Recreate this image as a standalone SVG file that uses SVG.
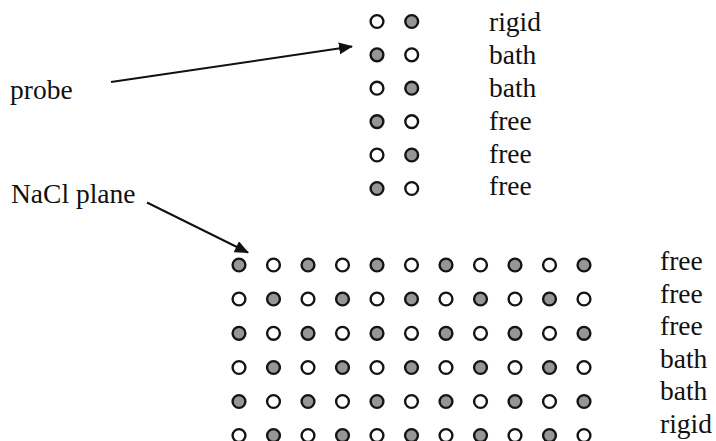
<svg xmlns="http://www.w3.org/2000/svg" width="716" height="441" viewBox="0 0 716 441">
  <style>
    .na { fill: #969696; stroke: #141414; stroke-width: 2.4; }
    .cl { fill: #ffffff; stroke: #141414; stroke-width: 2.4; }
    .lbl { font-family: 'Liberation Serif', Tinos, 'DejaVu Serif', serif; font-size: 27.5px; fill: #111; }
    .arrow { stroke: #111; stroke-width: 2; fill: none; }
  </style>
  <defs>
    <marker id="head" markerUnits="userSpaceOnUse" markerWidth="14" markerHeight="12" refX="13" refY="6" orient="auto">
      <path d="M0,0 L14,6 L0,12 z" fill="#111"/>
    </marker>
    <circle id="a" r="6.4" class="na"/>
    <circle id="b" r="6.4" class="cl"/>
  </defs>
  <rect width="716" height="441" fill="#ffffff"/>

  <!-- probe: two-column stack with per-layer labels -->
  <g id="probe">
    <use href="#b" x="377" y="21.5"/><use href="#a" x="411.7" y="21.5"/>
    <use href="#a" x="377" y="54.8"/><use href="#b" x="411.7" y="54.8"/>
    <use href="#b" x="377" y="88.2"/><use href="#a" x="411.7" y="88.2"/>
    <use href="#a" x="377" y="121.6"/><use href="#b" x="411.7" y="121.6"/>
    <use href="#b" x="377" y="155"/><use href="#a" x="411.7" y="155"/>
    <use href="#a" x="377" y="188.5"/><use href="#b" x="411.7" y="188.5"/>
  </g>
  <g id="probe-labels" class="lbl">
    <text x="489" y="31">rigid</text>
    <text x="489" y="64">bath</text>
    <text x="489" y="97">bath</text>
    <text x="489" y="130">free</text>
    <text x="489" y="163">free</text>
    <text x="489" y="195">free</text>
  </g>

  <!-- NaCl plane: 11 x 6 alternating lattice -->
  <g id="plane">
    <g id="row0" transform="translate(0,265)">
      <use href="#a" x="239"/><use href="#b" x="273.5"/><use href="#a" x="308"/><use href="#b" x="342.5"/><use href="#a" x="377"/><use href="#b" x="411.5"/><use href="#a" x="446"/><use href="#b" x="480.5"/><use href="#a" x="515"/><use href="#b" x="549.5"/><use href="#a" x="584"/>
    </g>
    <g id="row1" transform="translate(0,299)">
      <use href="#b" x="239"/><use href="#a" x="273.5"/><use href="#b" x="308"/><use href="#a" x="342.5"/><use href="#b" x="377"/><use href="#a" x="411.5"/><use href="#b" x="446"/><use href="#a" x="480.5"/><use href="#b" x="515"/><use href="#a" x="549.5"/><use href="#b" x="584"/>
    </g>
    <g id="row2" transform="translate(0,333.3)">
      <use href="#a" x="239"/><use href="#b" x="273.5"/><use href="#a" x="308"/><use href="#b" x="342.5"/><use href="#a" x="377"/><use href="#b" x="411.5"/><use href="#a" x="446"/><use href="#b" x="480.5"/><use href="#a" x="515"/><use href="#b" x="549.5"/><use href="#a" x="584"/>
    </g>
    <g id="row3" transform="translate(0,367.5)">
      <use href="#b" x="239"/><use href="#a" x="273.5"/><use href="#b" x="308"/><use href="#a" x="342.5"/><use href="#b" x="377"/><use href="#a" x="411.5"/><use href="#b" x="446"/><use href="#a" x="480.5"/><use href="#b" x="515"/><use href="#a" x="549.5"/><use href="#b" x="584"/>
    </g>
    <g id="row4" transform="translate(0,401.5)">
      <use href="#a" x="239"/><use href="#b" x="273.5"/><use href="#a" x="308"/><use href="#b" x="342.5"/><use href="#a" x="377"/><use href="#b" x="411.5"/><use href="#a" x="446"/><use href="#b" x="480.5"/><use href="#a" x="515"/><use href="#b" x="549.5"/><use href="#a" x="584"/>
    </g>
    <g id="row5" transform="translate(0,435.5)">
      <use href="#b" x="239"/><use href="#a" x="273.5"/><use href="#b" x="308"/><use href="#a" x="342.5"/><use href="#b" x="377"/><use href="#a" x="411.5"/><use href="#b" x="446"/><use href="#a" x="480.5"/><use href="#b" x="515"/><use href="#a" x="549.5"/><use href="#b" x="584"/>
    </g>
  </g>
  <g id="plane-labels" class="lbl">
    <text x="660" y="270">free</text>
    <text x="660" y="303">free</text>
    <text x="660" y="335">free</text>
    <text x="660" y="368">bath</text>
    <text x="660" y="400">bath</text>
    <text x="660" y="433">rigid</text>
  </g>

  <g id="probe-label" class="lbl"><text x="10" y="99">probe</text></g>
  <g id="plane-label" class="lbl"><text x="11" y="203">NaCl plane</text></g>

  <g id="connectors">
    <line class="arrow" x1="111" y1="82" x2="352" y2="46.5" marker-end="url(#head)"/>
    <line class="arrow" x1="147" y1="202.5" x2="248" y2="252.5" marker-end="url(#head)"/>
  </g>
</svg>
